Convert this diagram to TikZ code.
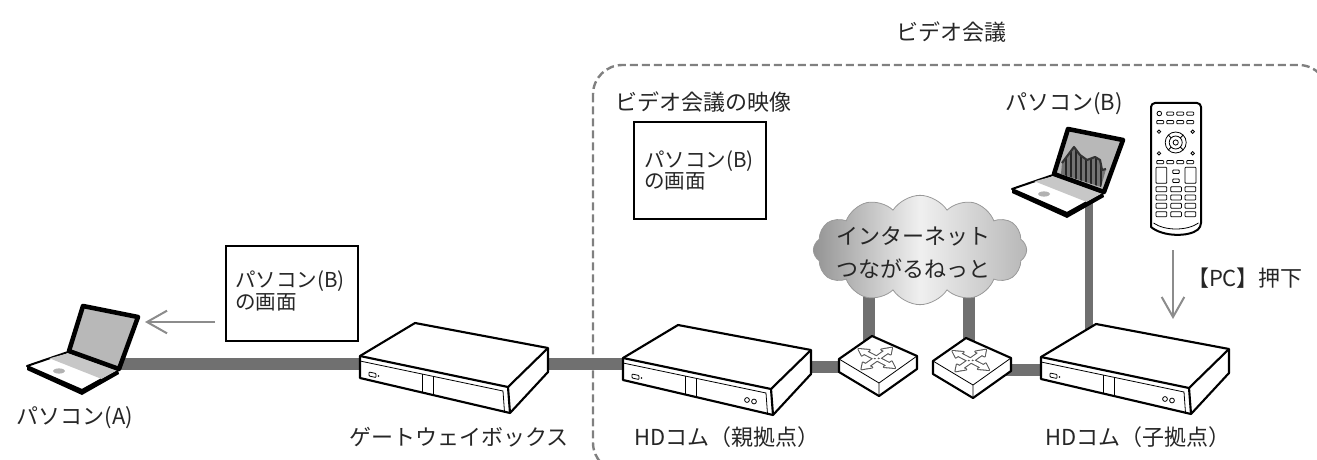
\documentclass[tikz,border=0pt]{standalone}
\usepackage{fontspec}
\usetikzlibrary{arrows.meta,shapes.symbols}
\newfontfamily\jpfont{Noto Sans CJK JP}

\tikzset{
  devline/.style={draw=black, line width=1.6pt, line join=round},
  devthin/.style={draw=black, line width=0.6pt},
  cable/.style={draw=black!56, line width=9.5pt},
  thincable/.style={draw=black!56, line width=6pt},
  flowarrow/.style={draw=black!45, line width=1.5pt, -{Straight Barb[length=15pt,width=17pt]}},
  lbl/.style={font=\jpfont\fontsize{16.5pt}{20pt}\selectfont, text=black!85, inner sep=0pt},
  boxtxt/.style={font=\jpfont\fontsize{15.4pt}{16pt}\selectfont, text=black!85, inner sep=0pt, align=left},
  scrbox/.style={draw=black, line width=1.5pt, fill=white, inner sep=0pt},
  confframe/.style={draw=black!50, line width=1.8pt, dash pattern=on 6pt off 3pt, rounded corners=22pt},
  btn/.style={draw=black, line width=0.6pt, rounded corners=0.6pt},
  % flat box unit, origin at the left corner of its top face
  settop/.pic={
    \filldraw[fill=white, devline]
      (0,0) -- (55,-33) -- (188,-8) -- (188,16) -- (150,57) -- (0,22) -- cycle;
    \draw[devline] (0,0) -- (148,31) -- (188,-8);
    \draw[devline] (148,31) -- (150,57);
    \draw[devthin] (0,5) -- (143,35) -- (144.5,56);
    \draw[devthin] (62,18) -- (62,36.5) (73,20.5) -- (73,39);
    \draw[devthin, rounded corners=0.6pt] (9,16) -- (16,17.5) -- (16,21.5) -- (9,20) -- cycle;
    \fill (18.5,20) circle (0.8);
  },
  hdunit/.pic={
    \pic {settop};
    \draw[devthin] (124,42) circle (2.4) (131,43.5) circle (2.4);
  },
  % router, origin at the left corner of its top face
  router/.pic={
    \filldraw[fill=white, devline] (0,0) -- (33,-23) -- (78,-3) -- (78,10) -- (40,37) -- (0,13) -- cycle;
    \draw[devthin] (0,0) -- (40,24) -- (78,-3) (40,24) -- (40,37);
    \begin{scope}[shift={(37.75,-0.5)}, x={(26.6pt,18.75pt)}, y={(31.9pt,-16.5pt)}]
      \foreach \s in {1,-1}{
        \draw[black!65, line width=1.6pt, line join=round]
          (0,-0.045) -- (0.26*\s,-0.045) -- (0.26*\s,-0.11) -- (0.43*\s,0) -- (0.26*\s,0.11) -- (0.26*\s,0.045) -- (0,0.045)
          (-0.045,0) -- (-0.045,0.26*\s) -- (-0.11,0.26*\s) -- (0,0.43*\s) -- (0.11,0.26*\s) -- (0.045,0.26*\s) -- (0.045,0);
      }
      \foreach \s in {1,-1}{
        \fill[white]
          (0,-0.045) -- (0.26*\s,-0.045) -- (0.26*\s,-0.11) -- (0.43*\s,0) -- (0.26*\s,0.11) -- (0.26*\s,0.045) -- (0,0.045) -- cycle
          (-0.045,0) -- (-0.045,0.26*\s) -- (-0.11,0.26*\s) -- (0,0.43*\s) -- (0.11,0.26*\s) -- (0.045,0.26*\s) -- (0.045,0) -- cycle;
      }
    \end{scope}
  },
  % notebook computer, origin at the left end of the hinge
  laptop/.pic={
    \filldraw[fill=white, draw=black, line width=1.5pt, line join=round]
      (0,0) -- (50,18) -- (14,38) -- (-41,14) -- cycle;
    \fill[black!22] (1,1) -- (49,18.5) -- (33.8,27) -- (-18.5,6.3) -- cycle;
    \fill[black!30] (-9,19) ellipse [x radius=6, y radius=2.6];
    \fill[black, line join=round] (-41,14) -- (14,38) -- (50,18) -- (51,22) -- (14,43) -- (-41,18) -- cycle;
    \filldraw[fill=black!28, draw=black, line width=3.4pt, line join=round]
      (1,-1) -- (15,-46) -- (70,-35) -- (51,17) -- cycle;
  },
  lapchart/.pic={
    \begin{scope}
      \clip (8,-1) -- (9,-12) -- (21,-28) -- (27,-20) -- (34,-15) -- (42,-18) -- (47,-15) -- (49,-5) -- (53,-6) -- (48,12) -- cycle;
      \fill[black!55] (0,-40) rectangle (60,20);
      \foreach \xx in {13,18,...,48} \draw[black!85, line width=0.9pt] (\xx,-35) -- (\xx,20);
    \end{scope}
    \draw[black!80, line width=1.6pt, line join=round]
      (9,-12) -- (21,-28) -- (27,-20) -- (34,-15) -- (42,-18) -- (47,-15) -- (49,-5) -- (53,-6);
  },
  % remote control, origin at the top left of the body
  remote/.pic={
    \filldraw[fill=white, draw=black, line width=1.5pt, line join=round]
      (0,124) [rounded corners=3pt] -- (0,0) -- (50,0) -- (50,124) [sharp corners]
      .. controls (38,134) and (12,134) .. (0,124) -- cycle;
    \draw[devthin] (2.5,120) .. controls (14,128) and (36,128) .. (47.5,120);
    \draw[devthin] (8.3,10.5) circle (2.3);
    \foreach \xx in {15.7,25.7,35.7} \draw[btn] (\xx,9) rectangle ++(7,3.2);
    \foreach \xx in {5.7,15.7,25.7,35.7} {
      \draw[btn] (\xx,17.5) rectangle ++(7,3.2);
      \draw[btn] (\xx,57.5) rectangle ++(7,3.2);
    }
    \foreach \p in {(8,28.7),(41.7,28.7),(8,50.3),(41.7,50.3)} \draw[devthin] \p circle (1.7);
    \draw[devthin] (24.7,39.5) circle (10.5) circle (6.5) circle (2.6);
    \foreach \a in {45,135,225,315} \draw[devthin] (24.7,39.5) ++(\a:6.5) -- ++(\a:4);
    \draw[btn] (5,64.3) rectangle (15.7,80.3);
    \draw[btn] (34,64.3) rectangle (45,80.3);
    \draw[btn] (21.7,67) rectangle (28.3,70.5);
    \draw[btn] (21.7,76) rectangle (28.3,79.5);
    \foreach \yy in {83.7,92,100.3,108.7}
      \foreach \xx in {5,19.7,34} \draw[btn] (\xx,\yy) rectangle ++(10.7,5);
  }
}

\begin{document}
\begin{tikzpicture}[x=0.75pt, y=-0.75pt]
  \useasboundingbox (0,0) rectangle (1317,460);
  \clip (0,0) rectangle (1317,460);

  % video conference area
  \draw[confframe] (593,65) rectangle (1328,472);

  % device anchor points
  \coordinate (lapA) at (68,352);
  \coordinate (lapB) at (1053,175);
  \coordinate (gw) at (360,356);
  \coordinate (hdp) at (623,358);
  \coordinate (hdc) at (1041,357);
  \coordinate (rtA) at (839,359);
  \coordinate (rtB) at (933,361);
  \coordinate (rc) at (1151,103);

  % cable ends
  \coordinate (lapA-port) at (110,364);
  \coordinate (gw-port) at (450,364);
  \coordinate (hdp-port) at (710,364);
  \coordinate (hdp-out) at (760,367);
  \coordinate (rtA-in) at (860,367);
  \coordinate (rtA-up) at (869,345);
  \coordinate (rtB-up) at (969,345);
  \coordinate (rtB-out) at (990,370);
  \coordinate (hdc-in) at (1070,370);
  \coordinate (hdc-up) at (1089,345);
  \coordinate (lapB-port) at (1089,195);
  \coordinate (net-a) at (869,285);
  \coordinate (net-b) at (969,285);

  % cables
  \draw[cable] (lapA-port) -- (gw-port);
  \draw[cable] (gw-port) -- (hdp-port);
  \draw[cable] (hdp-out) -- (rtA-in);
  \draw[cable] (net-a) -- (rtA-up);
  \draw[cable] (net-b) -- (rtB-up);
  \draw[cable] (rtB-out) -- (hdc-in);
  \draw[thincable] (lapB-port) -- (hdc-up);

  % internet cloud
  \node[cloud, cloud puffs=12, cloud puff arc=115, aspect=2.0,
        minimum width=160pt, minimum height=82pt, draw=black!40, line width=0.6pt,
        left color=black!42, right color=black!28, middle color=black!6] (net) at (920,250) {};
  \node[lbl, font=\jpfont\fontsize{16.5pt}{24.75pt}\selectfont, align=center] (nettxt) at (913,253)
    {インターネット\\つながるねっと};

  % devices
  \pic at (gw) {settop};
  \pic at (hdp) {hdunit};
  \pic at (hdc) {hdunit};
  \pic at (rtA) {router};
  \pic at (rtB) {router};
  \pic at (lapA) {laptop};
  \pic at (lapB) {laptop};
  \pic at (lapB) {lapchart};
  \pic at (rc) {remote};

  % screen contents
  \node[scrbox, minimum width=99pt, minimum height=72.75pt] (scrhd) at (700,170.5) {};
  \node[boxtxt, anchor=west] (scrhdtxt) at (644,170.5) {パソコン(B)\\の画面};
  \node[scrbox, minimum width=99pt, minimum height=71.25pt] (scrgw) at (292,293.5) {};
  \node[boxtxt, anchor=west] (scrgwtxt) at (235,291) {パソコン(B)\\の画面};

  % arrows
  \coordinate (arrA-from) at (215,322);
  \coordinate (arrA-to) at (145,322);
  \draw[flowarrow] (arrA-from) -- (arrA-to);
  \coordinate (arrR-from) at (1173,250);
  \coordinate (arrR-to) at (1173,319);
  \draw[flowarrow] (arrR-from) -- (arrR-to);

  % labels
  \node[lbl] (title) at (951,32) {ビデオ会議};
  \node[lbl, anchor=west] (feedlbl) at (615,102) {ビデオ会議の映像};
  \node[lbl] (lapBlbl) at (1064,104) {パソコン(B)};
  \node[lbl] (lapAlbl) at (75,418) {パソコン(A)};
  \node[lbl] (gwlbl) at (459,437) {ゲートウェイボックス};
  \node[lbl] (hdplbl) at (727,437) {HDコム（親拠点）};
  \node[lbl] (hdclbl) at (1138,437) {HDコム（子拠点）};
  \node[lbl] (pclbl) at (1245,278) {【PC】押下};
\end{tikzpicture}
\end{document}
